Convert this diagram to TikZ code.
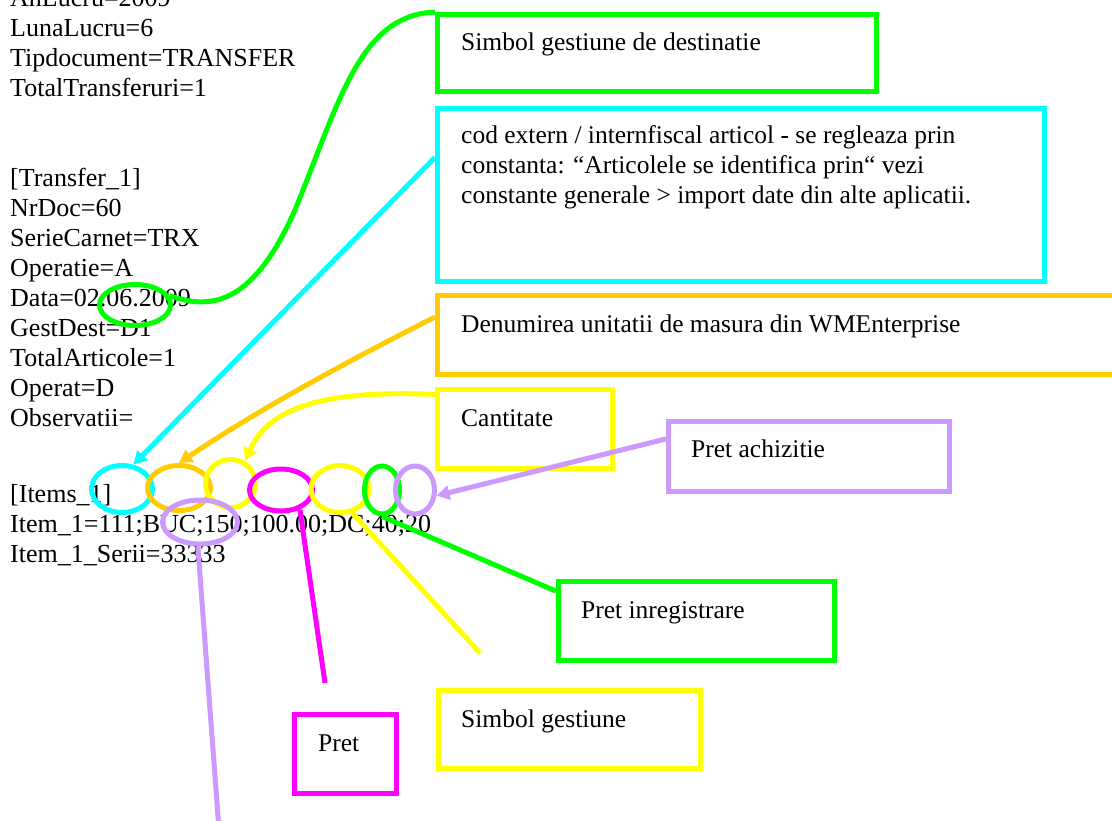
\documentclass[tikz,border=0pt]{standalone}
\usepackage{fontspec}
\setmainfont{Liberation Serif}
\usetikzlibrary{shapes.geometric,arrows.meta}

\definecolor{lgreen}{RGB}{0,255,0}
\definecolor{aqua}{RGB}{0,255,255}
\definecolor{amber}{RGB}{255,204,0}
\definecolor{lyellow}{RGB}{255,255,0}
\definecolor{fuchsia}{RGB}{255,0,255}
\definecolor{lilac}{RGB}{204,153,255}

\tikzstyle{every node}=[inner sep=0pt, font=\fontsize{26pt}{30pt}\selectfont]
\tikzstyle{code}=[anchor=base west]
\tikzstyle{note}=[anchor=base west, font=\fontsize{25.5pt}{30pt}\selectfont]
\tikzstyle{box}=[rectangle, draw, line width=5pt]
\tikzstyle{oval}=[ellipse, draw, line width=5pt]
\tikzstyle{pointer}=[-{Triangle[length=13pt,width=14pt]}]

\begin{document}
\begin{tikzpicture}[x=1pt,y=-1pt]
    \clip (0,0) rectangle (1112,820);

    % transfer file
    \foreach \y/\txt [count=\i] in {6/AnLucru=2009, 36/LunaLucru=6,
        66/Tipdocument=TRANSFER, 96/TotalTransferuri=1,
        186/[Transfer\_1], 216/NrDoc=60, 246/SerieCarnet=TRX,
        276/Operatie=A, 306/Data=02.06.2009, 336/GestDest=D1,
        366/TotalArticole=1, 396/Operat=D, 426/Observatii=,
        502/[Items\_1], 532/Item\_1=111;BUC;150;100.00;DC;40;20,
        562/Item\_1\_Serii=33333}
        \node[code] (ln\i) at (10,\y) {\txt};

    % boxes
    \node[box, draw=lgreen, minimum width=439pt, minimum height=77pt] (dest) at (657,53) {};
    \node[box, draw=aqua, minimum width=607pt, minimum height=173pt] (cod) at (741,195) {};
    \node[box, draw=amber, minimum width=680pt, minimum height=79pt] (um) at (777.5,335) {};
    \node[box, draw=lyellow, minimum width=175pt, minimum height=79pt] (cant) at (525,429) {};
    \node[box, draw=lilac, minimum width=281pt, minimum height=70pt] (pach) at (809,456.5) {};
    \node[box, draw=lgreen, minimum width=276pt, minimum height=79pt] (pinreg) at (696.5,621) {};
    \node[box, draw=lyellow, minimum width=262pt, minimum height=78pt] (sg) at (569.5,729.5) {};
    \node[box, draw=fuchsia, minimum width=102pt, minimum height=79pt] (pret) at (345.5,754) {};

    \node[note] (tdest) at (461,50) {Simbol gestiune de destinatie};
    \node[note] (tcod1) at (461,143) {cod extern / internfiscal articol - se regleaza prin};
    \node[note] (tcod2) at (461,173) {constanta: “Articolele se identifica prin“ vezi};
    \node[note] (tcod3) at (461,203) {constante generale > import date din alte aplicatii.};
    \node[note] (tum) at (461,332) {Denumirea unitatii de masura din WMEnterprise};
    \node[note] (tcant) at (461,426) {Cantitate};
    \node[note] (tpach) at (691,457) {Pret achizitie};
    \node[note] (tpinreg) at (581,618) {Pret inregistrare};
    \node[note] (tsg) at (461,727) {Simbol gestiune};
    \node[note] (tpret) at (318,751) {Pret};

    % ovals on the fields
    \node[oval, draw=lgreen, minimum width=71pt, minimum height=41pt] (edest) at (135,305) {};
    \node[oval, draw=aqua, minimum width=61pt, minimum height=47pt] (ecod) at (122,489) {};
    \node[oval, draw=amber, minimum width=63pt, minimum height=45pt] (eum) at (179,488) {};
    \node[oval, draw=lyellow, minimum width=50pt, minimum height=48pt] (ecant) at (230.5,483.5) {};
    \node[oval, draw=fuchsia, minimum width=63pt, minimum height=42pt] (epret) at (281,490) {};
    \node[oval, draw=lyellow, minimum width=58pt, minimum height=47pt] (esg) at (340,489) {};
    \node[oval, draw=lgreen, minimum width=35pt, minimum height=48pt] (epinreg) at (382,490) {};
    \node[oval, draw=lilac, minimum width=39pt, minimum height=48pt] (epach) at (415,490) {};
    \node[oval, draw=lilac, minimum width=75pt, minimum height=44pt] (ebuc) at (200,522) {};

    \coordinate (pretstub) at (325,683);
    \coordinate (sgstub) at (480,653);
    \coordinate (bucstub) at (219,830);

    \draw[lgreen, line width=5pt] (edest.15) .. controls (215,312) and (255,300) .. (295,210)
        .. controls (340,100) and (360,15) .. (dest.north west);
    \draw[amber, line width=5pt, pointer] (um.177) .. controls (370,350) and (270,402) .. (eum.north);
    \draw[lyellow, line width=5pt, pointer] (cant.159) .. controls (330,390) and (270,405) .. (ecant.57);
    \path[draw, line width=5pt]
    (cod.173) edge[aqua, pointer] (ecod.65)
    (pach.173) edge[lilac, pointer] (epach.-15)
    (epinreg.south) edge[lgreen] (pinreg.168)
    (epret.-46) edge[fuchsia] (pretstub)
    (esg.-63) edge[lyellow] (sgstub)
    (ebuc.-95) edge[lilac] (bucstub)
    ;
\end{tikzpicture}
\end{document}
